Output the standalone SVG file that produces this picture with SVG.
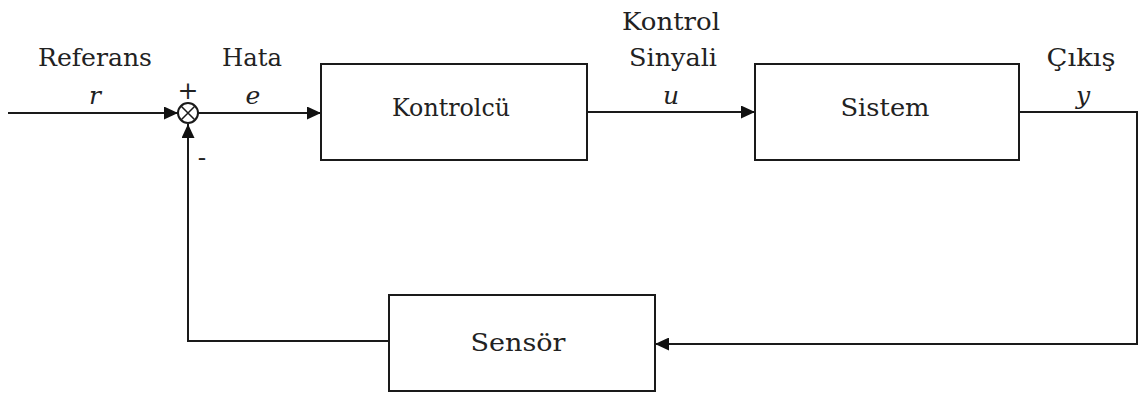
<svg xmlns="http://www.w3.org/2000/svg" width="1139" height="394" viewBox="0 0 1139 394">
<style>
.box{fill:#fff;stroke:#1a1a1a;stroke-width:2}
.wire{fill:none;stroke:#1a1a1a;stroke-width:2}
.t{font-family:'DejaVu Serif',serif;font-size:25px;fill:#222;text-anchor:middle}
.it{font-style:italic}
</style>
<defs>
<marker id="ah" viewBox="0 0 10 10" refX="10" refY="5" markerWidth="14" markerHeight="13" markerUnits="userSpaceOnUse" orient="auto" preserveAspectRatio="none"><path d="M0,0L10,5L0,10z" fill="#111"/></marker>
</defs>
<rect width="1139" height="394" fill="#fff"/>
<g id="connectors">
<path class="wire" d="M8,113H178" marker-end="url(#ah)"/>
<path class="wire" d="M198,113H321" marker-end="url(#ah)"/>
<path class="wire" d="M587,112H755" marker-end="url(#ah)"/>
<path class="wire" d="M1019,112H1137V344H655" marker-end="url(#ah)"/>
<path class="wire" d="M389,341H188V124" marker-end="url(#ah)"/>
</g>
<g id="sum">
<circle cx="188" cy="113" r="10" fill="#fff" stroke="#1a1a1a" stroke-width="2"/>
<path d="M181,106L195,120M195,106L181,120" stroke="#1a1a1a" stroke-width="1.5"/>
<text class="t" x="188" y="99" font-size="19">+</text>
<text class="t" x="202" y="166" font-size="22">-</text>
</g>
<g id="controller">
<rect class="box" x="321" y="64" width="266" height="96"/>
<text class="t" x="451" y="116" textLength="118" lengthAdjust="spacingAndGlyphs">Kontrolcü</text>
</g>
<g id="system">
<rect class="box" x="755" y="64" width="264" height="96"/>
<text class="t" x="885" y="116" textLength="89" lengthAdjust="spacingAndGlyphs">Sistem</text>
</g>
<g id="sensor">
<rect class="box" x="389" y="295" width="266" height="96"/>
<text class="t" x="518" y="351" textLength="95" lengthAdjust="spacingAndGlyphs">Sensör</text>
</g>
<g id="labels">
<text class="t" x="95" y="66" textLength="114" lengthAdjust="spacingAndGlyphs">Referans</text>
<text class="t it" x="95" y="104">r</text>
<text class="t" x="252" y="66" textLength="60" lengthAdjust="spacingAndGlyphs">Hata</text>
<text class="t it" x="253" y="104">e</text>
<text class="t" x="671" y="30" textLength="98" lengthAdjust="spacingAndGlyphs">Kontrol</text>
<text class="t" x="673" y="66" textLength="88" lengthAdjust="spacingAndGlyphs">Sinyali</text>
<text class="t it" x="671" y="104">u</text>
<text class="t" x="1081" y="66" textLength="69" lengthAdjust="spacingAndGlyphs">Çıkış</text>
<text class="t it" x="1083" y="104">y</text>
</g>
</svg>
